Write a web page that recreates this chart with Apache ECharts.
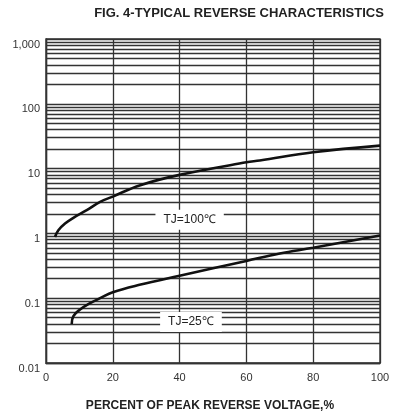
<!DOCTYPE html>
<html><head><meta charset="utf-8">
<script src="https://cdn.jsdelivr.net/npm/echarts@6/dist/echarts.min.js"></script>
<style>html,body{margin:0;padding:0;background:#fff}#c{width:404px;height:417px}</style>
</head><body><div id="c"></div>
<script>
const titleText = 'FIG. 4-TYPICAL REVERSE CHARACTERISTICS';
const xAxisName = 'PERCENT OF PEAK REVERSE VOLTAGE,%';
const xTicks = [0, 20, 40, 60, 80, 100];
const yTicks = [0.01, 0.1, 1, 10, 100, 1000];
const yTickLabels = ['0.01', '0.1', '1', '10', '100', '1,000'];
const tj100Name = 'TJ=100\u2103';
const tj25Name = 'TJ=25\u2103';
const tj100X = [2.7, 3.7, 5.7, 8.2, 12.2, 16.2, 20, 28, 40, 60, 64, 80, 100];
const tj100Y = [0.88, 1.12, 1.42, 1.74, 2.28, 3.06, 3.7, 5.5, 8.0, 12.5, 13.3, 17.9, 22.6];
const tj25X = [7.7, 8.2, 10.2, 13.2, 16.2, 20, 28, 40, 60, 70, 80, 100];
const tj25Y = [0.040, 0.053, 0.067, 0.084, 0.1, 0.124, 0.161, 0.222, 0.376, 0.49, 0.6, 0.93];
const tj100LabelAt = [43, 1.62];
const tj25LabelAt = [43.4, 0.043];

const FONT = 'Liberation Sans, Arial, sans-serif';
const GRID_COLOR = '#333';

// minor log grid lines: 2..9 x each decade
const minorLines = [];
for (let i = 0; i < yTicks.length - 1; i++) {
  for (let k = 2; k <= 9; k++) minorLines.push({ yAxis: +(k * yTicks[i]).toPrecision(6) });
}

function fmtY(v) {
  for (let i = 0; i < yTicks.length; i++) {
    if (Math.abs(Math.log10(v) - Math.log10(yTicks[i])) < 1e-6) return yTickLabels[i];
  }
  return '';
}

const chart = echarts.init(document.getElementById('c'), null, { renderer: 'canvas' });
chart.setOption({
  animation: false,
  backgroundColor: '#fff',
  title: {
    text: titleText,
    left: 234, textAlign: 'center', top: 2,
    textStyle: { fontFamily: FONT, fontSize: 13, fontWeight: 'bold', color: '#222' }
  },
  grid: { left: 46, right: 24, top: 39, bottom: 52, show: true, borderColor: GRID_COLOR, borderWidth: 1.4, backgroundColor: 'transparent' },
  xAxis: {
    type: 'value', min: xTicks[0], max: xTicks[xTicks.length - 1], interval: 20,
    name: xAxisName, nameLocation: 'middle', nameGap: 37,
    nameTextStyle: { fontFamily: FONT, fontSize: 12, fontWeight: 'bold', color: '#222', padding: [0, 6, 0, 0] },
    axisLine: { show: true, lineStyle: { color: GRID_COLOR, width: 1.4 } },
    axisTick: { show: false },
    axisLabel: { margin: 9, fontFamily: FONT, fontSize: 11, color: '#333' },
    splitLine: { show: true, lineStyle: { color: GRID_COLOR, width: 1.3 } }
  },
  yAxis: {
    type: 'log', logBase: 10, min: yTicks[0], max: yTicks[yTicks.length - 1],
    axisLine: { show: true, lineStyle: { color: GRID_COLOR, width: 1.4 } },
    axisTick: { show: false },
    axisLabel: { margin: 6, fontFamily: FONT, fontSize: 11, color: '#333', formatter: fmtY, verticalAlign: 'top' },
    splitLine: { show: true, lineStyle: { color: GRID_COLOR, width: 1.3 } }
  },
  series: [
    {
      name: tj100Name, type: 'line', smooth: 0.4, showSymbol: false, z: 3,
      lineStyle: { color: '#111', width: 2.6 },
      data: tj100X.map((x, i) => [x, tj100Y[i]]),
      markLine: {
        z: 1, silent: true, symbol: ['none', 'none'], label: { show: false },
        lineStyle: { color: GRID_COLOR, width: 1.3, type: 'solid' },
        emphasis: { disabled: true },
        data: minorLines
      },
      markPoint: {
        z: 6, silent: true, symbol: 'rect', symbolSize: 0,
        label: { show: true, position: 'inside', formatter: tj100Name, backgroundColor: '#fff', padding: [4, 8], fontFamily: FONT, fontSize: 12, color: '#222' },
        data: [{ coord: tj100LabelAt }]
      }
    },
    {
      name: tj25Name, type: 'line', smooth: 0.4, showSymbol: false, z: 3,
      lineStyle: { color: '#111', width: 2.6 },
      data: tj25X.map((x, i) => [x, tj25Y[i]]),
      markPoint: {
        z: 6, silent: true, symbol: 'rect', symbolSize: 0,
        label: { show: true, position: 'inside', formatter: tj25Name, backgroundColor: '#fff', padding: [4, 8], fontFamily: FONT, fontSize: 12, color: '#222' },
        data: [{ coord: tj25LabelAt }]
      }
    }
  ]
});
</script>
</body></html>
